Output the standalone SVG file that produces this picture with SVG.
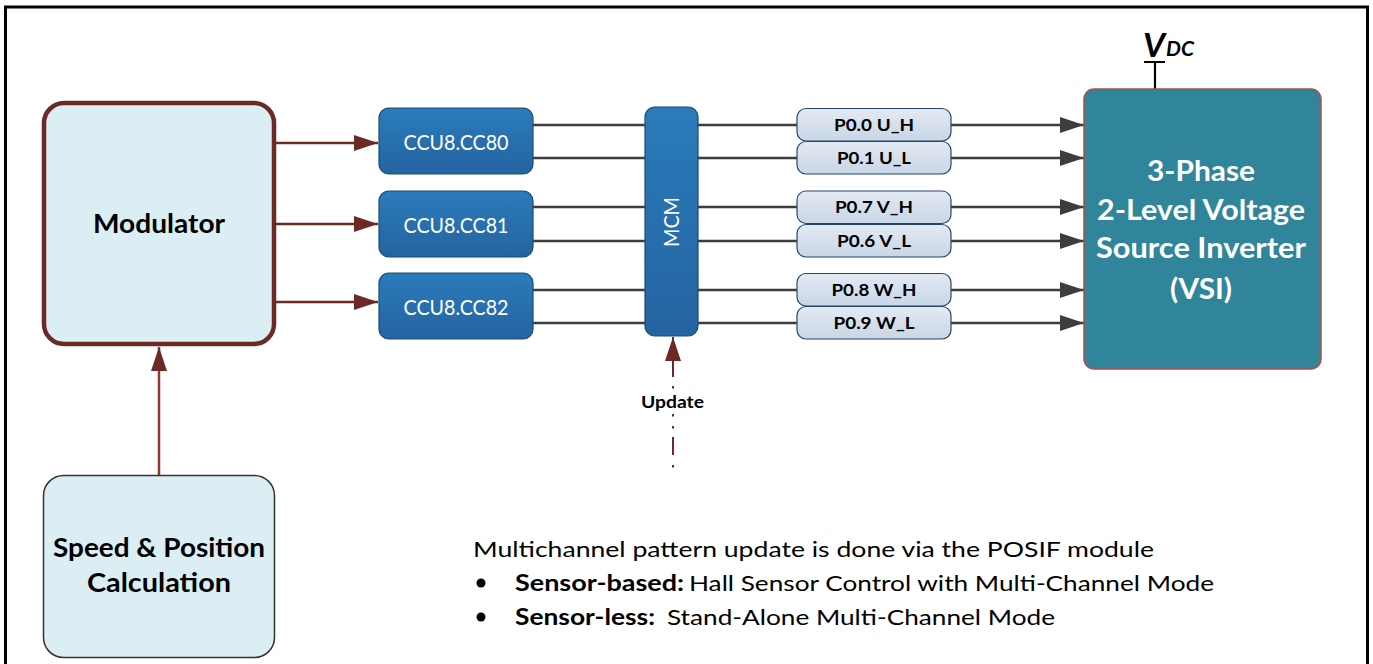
<svg xmlns="http://www.w3.org/2000/svg" width="1373" height="664" viewBox="0 0 1373 664">
  <style>
    .sans { font-family: "Lato", "Noto Sans", "Liberation Sans", sans-serif; }
    .bold { font-weight: 700; }
    .ccu-box { fill: url(#gBlue); stroke: #1c4a75; stroke-width: 1.2; }
    .pin-box { fill: url(#gPin); stroke: #27466b; stroke-width: 1.2; }
    .ccu-label { fill: #ffffff; font-size: 21px; text-anchor: middle; }
    .pin-label { fill: #000000; font-size: 17px; font-weight: 700; text-anchor: middle; }
    .wire { stroke: #3d3d3d; stroke-width: 2.5; fill: none; }
    .feed { stroke: #6b2a26; stroke-width: 2.5; fill: none; }
    .vsi-label { fill: #ffffff; font-size: 28px; font-weight: 700; text-anchor: middle; }
    .note { fill: #000000; font-size: 22px; }
  </style>
  <defs>
    <linearGradient id="gBlue" x1="0" y1="0" x2="0" y2="1">
      <stop offset="0" stop-color="#2b7bbb"/>
      <stop offset="1" stop-color="#2464a0"/>
    </linearGradient>
    <linearGradient id="gPin" x1="0" y1="0" x2="0" y2="1">
      <stop offset="0" stop-color="#e3eaf3"/>
      <stop offset="1" stop-color="#c8d6e6"/>
    </linearGradient>
    <marker id="arrBrown" markerUnits="userSpaceOnUse" markerWidth="24" markerHeight="16" refX="24" refY="8" orient="auto">
      <path d="M0,0 L24,8 L0,16 z" fill="#6b2a26"/>
    </marker>
    <marker id="arrGrey" markerUnits="userSpaceOnUse" markerWidth="24" markerHeight="16" refX="24" refY="8" orient="auto">
      <path d="M0,0 L24,8 L0,16 z" fill="#3d3d3d"/>
    </marker>
  </defs>

  <!-- outer frame -->
  <path d="M5.5,664 V7 H1367.5 V664" fill="none" stroke="#000000" stroke-width="3"/>

  <!-- connectors -->
  <g id="connectors">
    <!-- modulator to CCU8 slices -->
    <line class="feed" x1="276" y1="143" x2="378" y2="143" marker-end="url(#arrBrown)"/>
    <line class="feed" x1="276" y1="224" x2="378" y2="224" marker-end="url(#arrBrown)"/>
    <line class="feed" x1="276" y1="302" x2="378" y2="302" marker-end="url(#arrBrown)"/>
    <!-- speed/position to modulator -->
    <line x1="159" y1="475" x2="159" y2="347" stroke="#8e3834" stroke-width="2.5" marker-end="url(#arrBrown)"/>
    <!-- CCU8 outputs through MCM to pins -->
    <line class="wire" x1="533" y1="125" x2="797" y2="125"/>
    <line class="wire" x1="533" y1="158" x2="797" y2="158"/>
    <line class="wire" x1="533" y1="207" x2="797" y2="207"/>
    <line class="wire" x1="533" y1="241" x2="797" y2="241"/>
    <line class="wire" x1="533" y1="290" x2="797" y2="290"/>
    <line class="wire" x1="533" y1="323" x2="797" y2="323"/>
    <!-- pins to inverter -->
    <line class="wire" x1="951" y1="125" x2="1084" y2="125" marker-end="url(#arrGrey)"/>
    <line class="wire" x1="951" y1="158" x2="1084" y2="158" marker-end="url(#arrGrey)"/>
    <line class="wire" x1="951" y1="207" x2="1084" y2="207" marker-end="url(#arrGrey)"/>
    <line class="wire" x1="951" y1="241" x2="1084" y2="241" marker-end="url(#arrGrey)"/>
    <line class="wire" x1="951" y1="290" x2="1084" y2="290" marker-end="url(#arrGrey)"/>
    <line class="wire" x1="951" y1="323" x2="1084" y2="323" marker-end="url(#arrGrey)"/>
    <!-- update trigger into MCM -->
    <line x1="673" y1="377" x2="673" y2="337" stroke="#6b2a26" stroke-width="2" marker-end="url(#arrBrown)"/>
    <path d="M673,386 V388.5 M673,414 V416.5 M673,426 V428.5 M673,437 V455 M673,465 V467.5" stroke="#6b2a26" stroke-width="2" fill="none"/>
    <!-- DC supply terminal -->
    <path d="M1144,62 H1165 M1155,62 V89" stroke="#000000" stroke-width="2.2" fill="none"/>
  </g>

  <g id="modulator">
    <rect x="44" y="103" width="230" height="241" rx="20" fill="#dbeef4" stroke="#6b2a26" stroke-width="4.5"/>
    <text class="sans bold" x="159" y="233" font-size="26" text-anchor="middle" textLength="132" lengthAdjust="spacingAndGlyphs">Modulator</text>
  </g>

  <g id="speed-position">
    <rect x="43.5" y="475.5" width="231" height="182" rx="20" fill="#dbeef4" stroke="#333333" stroke-width="1.5"/>
    <text class="sans bold" x="159" y="557" font-size="26" text-anchor="middle" textLength="212" lengthAdjust="spacingAndGlyphs">Speed &amp; Position</text>
    <text class="sans bold" x="159" y="592" font-size="26" text-anchor="middle" textLength="144" lengthAdjust="spacingAndGlyphs">Calculation</text>
  </g>

  <g id="ccu8-cc80">
    <rect class="ccu-box" x="379" y="108" width="154" height="66" rx="10"/>
    <text class="sans ccu-label" x="456" y="150" textLength="105" lengthAdjust="spacingAndGlyphs">CCU8.CC80</text>
  </g>
  <g id="ccu8-cc81">
    <rect class="ccu-box" x="379" y="191" width="154" height="66" rx="10"/>
    <text class="sans ccu-label" x="456" y="233" textLength="105" lengthAdjust="spacingAndGlyphs">CCU8.CC81</text>
  </g>
  <g id="ccu8-cc82">
    <rect class="ccu-box" x="379" y="273" width="154" height="66" rx="10"/>
    <text class="sans ccu-label" x="456" y="315" textLength="105" lengthAdjust="spacingAndGlyphs">CCU8.CC82</text>
  </g>

  <g id="mcm">
    <rect class="ccu-box" x="645" y="107" width="53" height="229" rx="10"/>
    <text class="sans ccu-label" transform="translate(679,222) rotate(-90)" x="0" y="0" textLength="50" lengthAdjust="spacingAndGlyphs">MCM</text>
  </g>

  <g id="pin-u-h">
    <rect class="pin-box" x="797" y="108.5" width="154" height="32.5" rx="9"/>
    <text class="sans pin-label" x="874" y="131" textLength="80" lengthAdjust="spacingAndGlyphs">P0.0 U_H</text>
  </g>
  <g id="pin-u-l">
    <rect class="pin-box" x="797" y="141.5" width="154" height="32.5" rx="9"/>
    <text class="sans pin-label" x="874" y="164" textLength="74" lengthAdjust="spacingAndGlyphs">P0.1 U_L</text>
  </g>
  <g id="pin-v-h">
    <rect class="pin-box" x="797" y="191" width="154" height="32.5" rx="9"/>
    <text class="sans pin-label" x="874" y="213" textLength="78" lengthAdjust="spacingAndGlyphs">P0.7 V_H</text>
  </g>
  <g id="pin-v-l">
    <rect class="pin-box" x="797" y="224.5" width="154" height="32.5" rx="9"/>
    <text class="sans pin-label" x="874" y="247" textLength="74" lengthAdjust="spacingAndGlyphs">P0.6 V_L</text>
  </g>
  <g id="pin-w-h">
    <rect class="pin-box" x="797" y="273.5" width="154" height="32.5" rx="9"/>
    <text class="sans pin-label" x="874" y="296" textLength="85" lengthAdjust="spacingAndGlyphs">P0.8 W_H</text>
  </g>
  <g id="pin-w-l">
    <rect class="pin-box" x="797" y="306.5" width="154" height="32.5" rx="9"/>
    <text class="sans pin-label" x="874" y="329" textLength="81" lengthAdjust="spacingAndGlyphs">P0.9 W_L</text>
  </g>

  <g id="vsi">
    <rect x="1084" y="89" width="237" height="280" rx="10" fill="#31859a" stroke="#a8504a" stroke-width="1.5"/>
    <text class="sans vsi-label" x="1201" y="181" textLength="108" lengthAdjust="spacingAndGlyphs">3-Phase</text>
    <text class="sans vsi-label" x="1201" y="220" textLength="208" lengthAdjust="spacingAndGlyphs">2-Level Voltage</text>
    <text class="sans vsi-label" x="1201" y="258" textLength="210" lengthAdjust="spacingAndGlyphs">Source Inverter</text>
    <text class="sans vsi-label" x="1201" y="299" textLength="62" lengthAdjust="spacingAndGlyphs">(VSI)</text>
  </g>

  <g id="vdc">
    <text class="sans bold" x="1143" y="57" font-size="32" font-style="italic" textLength="22" lengthAdjust="spacingAndGlyphs">V</text>
    <text class="sans bold" x="1166" y="56" font-size="20" font-style="italic" textLength="28" lengthAdjust="spacingAndGlyphs">DC</text>
  </g>

  <g id="update-label">
    <text class="sans bold" x="672.5" y="408" font-size="17" text-anchor="middle" textLength="63" lengthAdjust="spacingAndGlyphs">Update</text>
  </g>

  <g id="notes">
    <text class="sans note" x="473" y="557" textLength="681" lengthAdjust="spacingAndGlyphs">Multichannel pattern update is done via the POSIF module</text>
    <circle cx="481" cy="583" r="4.5" fill="#000000"/>
    <text class="sans note" y="591"><tspan class="bold" x="515" textLength="169" lengthAdjust="spacingAndGlyphs">Sensor-based:</tspan><tspan x="689" textLength="525" lengthAdjust="spacingAndGlyphs">Hall Sensor Control with Multi-Channel Mode</tspan></text>
    <circle cx="481" cy="617" r="4.5" fill="#000000"/>
    <text class="sans note" y="625"><tspan class="bold" x="515" textLength="140" lengthAdjust="spacingAndGlyphs">Sensor-less:</tspan><tspan x="667" textLength="388" lengthAdjust="spacingAndGlyphs">Stand-Alone Multi-Channel Mode</tspan></text>
  </g>
</svg>
